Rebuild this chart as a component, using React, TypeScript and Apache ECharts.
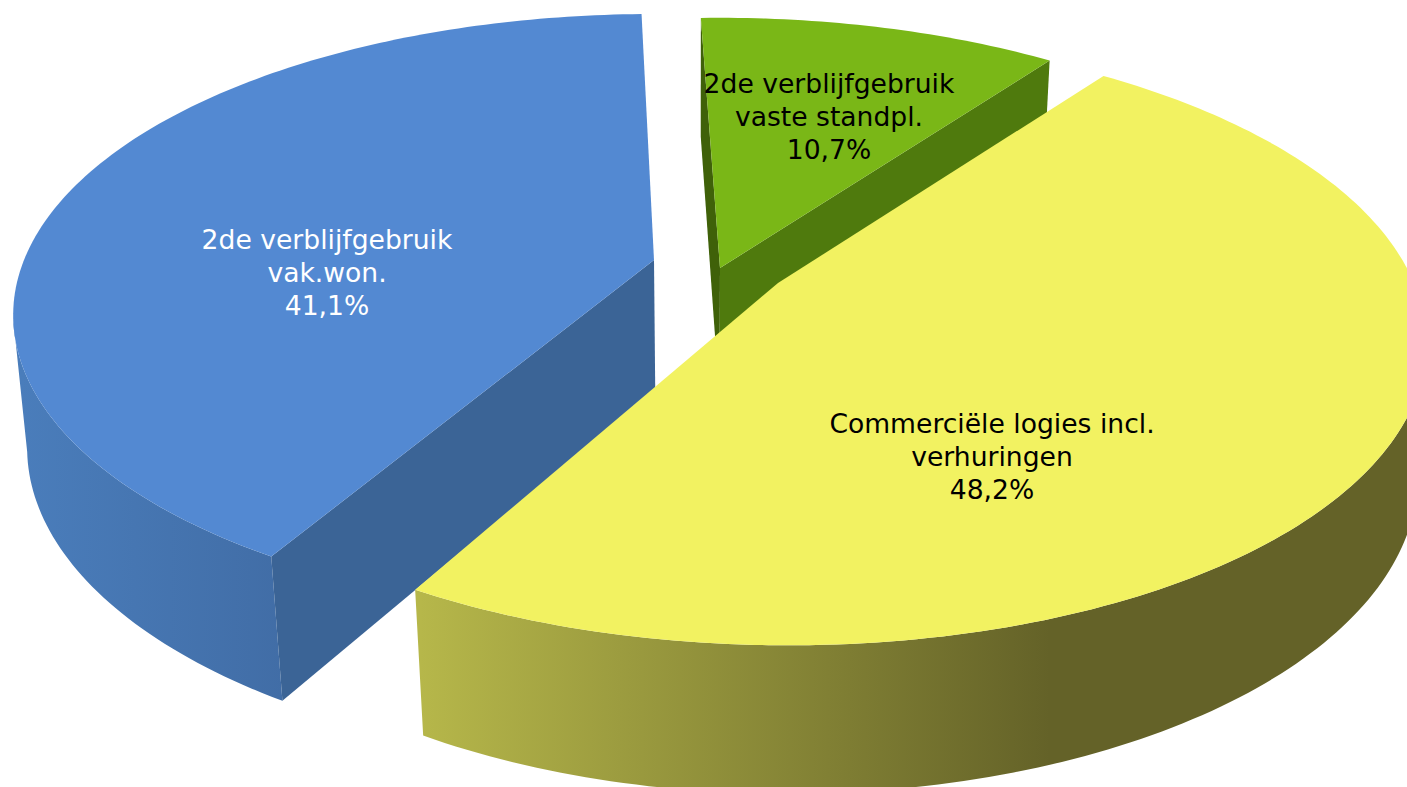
import React, { useEffect, useRef } from "react";
import * as echarts from "echarts";

const categories = ["2de verblijfgebruik\nvak.won.", "2de verblijfgebruik\nvaste standpl.", "Commerciële logies incl.\nverhuringen"];
const shares = [41.1, 10.7, 48.2];

const topColors = ["#5389D2", "#7AB717", "#F2F261"];
const cutColors = ["#3B6496", "#4F7A0D", "#8F8F39"];
const textColors = ["#FFFFFF", "#000000", "#000000"];
const wallStops = [
  [[0, "#4A7DBB"], [1, "#416DA6"]],
  [[0, "#4F7A0D"], [1, "#4F7A0D"]],
  [[0, "#B6B74A"], [1, "#646228"]],
];
const wallRanges = [[20, 285], [700, 1050], [420, 1050]];
const origins = [[654, 260], [720, 268], [778, 283]];
const labelCenters = [[327, 272], [829, 116], [992, 456]];
const radiiX = [630, 636, 636];
const radiiY = [291, 296, 296];
const shears = [0, 0, 0.028];
const startNudges = [-0.8, 0, -0.2];
const endNudges = [-0.7, 0, 0.6];

const START_ANGLE = 240;
const PERSPECTIVE = 0.183;
const VANISH_X = 694;
const DEPTH = 130;

const rad = (d: number) => (d * Math.PI) / 180;

function rim(i: number, deg: number): number[] {
  const o = origins[i];
  const w = 1 + PERSPECTIVE * Math.sin(rad(deg));
  const sx = (radiiX[i] * Math.cos(rad(deg))) / w;
  const sy = -(radiiY[i] * Math.sin(rad(deg))) / w;
  return [o[0] + sx + shears[i] * sy, o[1] + sy];
}
function drop(p: number[]): number[] {
  const dx = p[0] - VANISH_X;
  const lean = (dx < 0 ? 14 : 9) * Math.sin((Math.min(Math.abs(dx), 720) / 720) * (Math.PI / 2));
  return [p[0] + (dx < 0 ? lean : -lean), p[1] + DEPTH + (p[1] - 260) * 0.048];
}

export default function App() {
  const ref = useRef<HTMLDivElement>(null);
  useEffect(() => {
    const chart = echarts.init(ref.current!, undefined, { renderer: "svg" });
    const total = shares.reduce((a, b) => a + b, 0);
    const renderItem = (params: any, api: any) => {
      const i = params.dataIndex;
      const before = shares.slice(0, i).reduce((a, b) => a + b, 0);
      const base = START_ANGLE - (before / total) * 360;
      const a0 = base + startNudges[i];
      const a1 = base - (api.value(0) / total) * 360 + endNudges[i];
      const o = origins[i];
      const arc: number[][] = [];
      const front: number[][] = [];
      const steps = Math.ceil(Math.abs(a0 - a1));
      for (let s = 0; s <= steps; s++) {
        const deg = a0 + ((a1 - a0) * s) / steps;
        const p = rim(i, deg);
        arc.push(p);
        if (Math.sin(rad(deg)) <= -PERSPECTIVE) front.push(p);
      }
      const children: any[] = [];
      if (front.length > 1) {
        children.push({
          type: "polygon",
          shape: { points: [...front, ...front.map(drop).reverse()] },
          style: {
            fill: new echarts.graphic.LinearGradient(
              wallRanges[i][0], 0, wallRanges[i][1], 0,
              wallStops[i].map(([offset, color]) => ({ offset: offset as number, color: color as string })),
              true
            ),
          },
        });
      }
      const cut = (p: number[], fill: string) => ({
        type: "polygon",
        shape: { points: [o, p, drop(p), drop(o)] },
        style: { fill },
      });
      const first = arc[0];
      const last = arc[arc.length - 1];
      if (i === 0) children.push(cut(first, cutColors[0]));
      if (i === 1) children.push(cut(first, "#3F6109"), cut(last, cutColors[1]));
      const pct = api.value(0).toFixed(1).replace(".", ",") + "%";
      children.push(
        { type: "polygon", shape: { points: [o, ...arc] }, style: { fill: topColors[i] } },
        {
          type: "text",
          style: {
            text: categories[i] + "\n" + pct,
            x: labelCenters[i][0],
            y: labelCenters[i][1],
            fill: textColors[i],
            font: '26.6px "DejaVu Sans"',
            lineHeight: 33,
            align: "center",
            verticalAlign: "middle",
          },
        }
      );
      return { type: "group", children };
    };
    chart.setOption({
      animation: false,
      backgroundColor: "#FFFFFF",
      series: [
        {
          type: "custom",
          coordinateSystem: "none",
          renderItem,
          data: shares.map((v) => [v]),
          silent: true,
        },
      ],
    });
    return () => chart.dispose();
  }, []);
  return <div ref={ref} style={{ position: "fixed", left: 0, top: 0, width: 1407, height: 787 }} />;
}
